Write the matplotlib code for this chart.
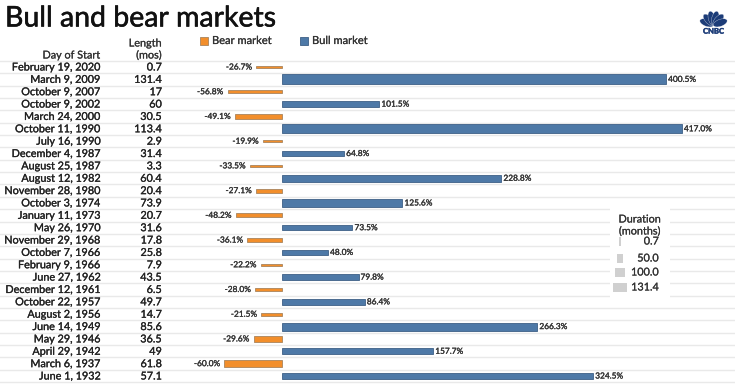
import numpy as np
import matplotlib
matplotlib.use("Agg")
import matplotlib.pyplot as plt
import matplotlib.patheffects as pe
from matplotlib.patches import Rectangle, Ellipse
from matplotlib.transforms import blended_transform_factory

plt.rcParams["font.family"] = ["Lato", "DejaVu Sans"]

# Data
start_dates = [
    "February 19, 2020", "March 9, 2009", "October 9, 2007", "October 9, 2002",
    "March 24, 2000", "October 11, 1990", "July 16, 1990", "December 4, 1987",
    "August 25, 1987", "August 12, 1982", "November 28, 1980", "October 3, 1974",
    "January 11, 1973", "May 26, 1970", "November 29, 1968", "October 7, 1966",
    "February 9, 1966", "June 27, 1962", "December 12, 1961", "October 22, 1957",
    "August 2, 1956", "June 14, 1949", "May 29, 1946", "April 29, 1942",
    "March 6, 1937", "June 1, 1932",
]
length_mos = [
    0.7, 131.4, 17, 60, 30.5, 113.4, 2.9, 31.4, 3.3, 60.4, 20.4, 73.9, 20.7,
    31.6, 17.8, 25.8, 7.9, 43.5, 6.5, 49.7, 14.7, 85.6, 36.5, 49, 61.8, 57.1,
]
pct_change = [
    -26.7, 400.5, -56.8, 101.5, -49.1, 417.0, -19.9, 64.8, -33.5, 228.8, -27.1,
    125.6, -48.2, 73.5, -36.1, 48.0, -22.2, 79.8, -28.0, 86.4, -21.5, 266.3,
    -29.6, 157.7, -60.0, 324.5,
]
legend_durations = [0.7, 50.0, 100.0, 131.4]

# Colours
BEAR = "#f28e2b"
BEAR_EDGE = "#a8845c"
BULL = "#4e79a7"
BULL_EDGE = "#3d5f86"
GRID = "#e9e9e9"
TXT = "#222222"
LOGO = "#1c3c78"


def heavy(w, c):
    return [pe.withStroke(linewidth=w, foreground=c)]


# Layout (pixels)
W, H = 735, 384
X0 = 282.0          # pixel position of 0%
PX_PER_PCT = 0.959
ROW0 = 67.0         # centre of first row
ROW_H = 12.36

fig = plt.figure(figsize=(W / 100, H / 100), dpi=100)
ax = fig.add_axes([0, 0, 1, 1])
ax.set_xlim(-X0 / PX_PER_PCT, (W - X0) / PX_PER_PCT)
ax.set_ylim((H - ROW0) / ROW_H, -ROW0 / ROW_H)
ax.axis("off")

n = len(start_dates)
rows = np.arange(n)
vals = np.array(pct_change)
durs = np.array(length_mos)

# horizontal separators
for b in np.arange(n + 1) - 0.5:
    ax.axhline(b, color=GRID, lw=1.0, zorder=0)

# bar thickness encodes duration
thick = 0.8 * np.sqrt(durs / durs.max())
thick = np.maximum(thick, 0.09)
colors = [BEAR if v < 0 else BULL for v in vals]
edges = [BEAR_EDGE if v < 0 else BULL_EDGE for v in vals]
ax.barh(rows, vals, height=thick, color=colors, edgecolor=edges,
        linewidth=0.6, zorder=2)

pad = 2.0 / PX_PER_PCT
for i, v in enumerate(vals):
    if v < 0:
        ax.text(v - 2 * pad, i, "{:.1f}%".format(v), ha="right", va="center",
                fontsize=6, color="#333333",
                path_effects=heavy(0.2, "#333333"))
    else:
        ax.text(v + pad, i, "{:.1f}%".format(v), ha="left", va="center",
                fontsize=6, color="#333333",
                path_effects=heavy(0.2, "#333333"))

# table columns
tr = blended_transform_factory(fig.transFigure, ax.transData)
for i in range(n):
    ax.text(101 / W, i, start_dates[i], transform=tr, ha="right",
            va="center", fontsize=7.8, color=TXT,
            path_effects=heavy(0.2, TXT))
    ax.text(162 / W, i, "{:g}".format(length_mos[i]), transform=tr,
            ha="right", va="center", fontsize=7.8, color=TXT,
            path_effects=heavy(0.2, TXT))

for x, y, s in [(101, 55, "Day of Start"), (162, 43, "Length"),
                (162, 55, "(mos)")]:
    fig.text(x / W, 1 - y / H, s, ha="right", va="center", fontsize=7.8,
             color="#333333", path_effects=heavy(0.15, "#333333"))

# title
fig.text(5 / W, 1 - 18.5 / H, "Bull and bear markets", ha="left",
         va="center", fontsize=20.5, color="#111111",
         path_effects=heavy(0.4, "#111111"))

# top legend
for x, c, ec, lab in [(200, BEAR, BEAR_EDGE, "Bear market"),
                      (300, BULL, BULL_EDGE, "Bull market")]:
    fig.patches.append(Rectangle((x / W, 1 - 44.5 / H), 7.5 / W, 7.5 / H,
                                 transform=fig.transFigure, facecolor=c,
                                 edgecolor=ec, lw=0.6))
    fig.text((x + 12) / W, 1 - 40.5 / H, lab, ha="left", va="center",
             fontsize=8, color="#333333", path_effects=heavy(0.15, "#333333"))

# size legend
lax = fig.add_axes([610 / W, (H - 300) / H, 60 / W, 92 / H], zorder=3)
lax.set_xlim(0, 60)
lax.set_ylim(92, 0)
lax.set_facecolor("white")
for s in lax.spines.values():
    s.set_visible(False)
lax.set_xticks([])
lax.set_yticks([])
lax.text(30, 11, "Duration", ha="center", va="center", fontsize=7.8,
         color="#333333", path_effects=heavy(0.15, "#333333"))
lax.text(30, 23, "(months)", ha="center", va="center", fontsize=7.8,
         color="#333333", path_effects=heavy(0.15, "#333333"))
leg_y = [33, 50, 64, 79]
leg_w = [max(14 * d / 131.4, 1.2) for d in legend_durations]
lax.bar([10] * 4, [9] * 4, width=leg_w, bottom=[y - 4.5 for y in leg_y],
        color="#d0d0d0")
for y, d in zip(leg_y, legend_durations):
    lax.text(49, y, "{:.1f}".format(d), ha="right", va="center",
             fontsize=7.8, color="#333333", path_effects=heavy(0.15, "#333333"))

# CNBC logo
gax = fig.add_axes([699 / W, 1 - 34 / H, 29 / W, 29 / H], zorder=3)
gax.set_xlim(-1.25, 1.25)
gax.set_ylim(-0.75, 1.75)
gax.axis("off")
for ang in np.linspace(160, 20, 6):
    a = np.deg2rad(ang)
    gax.add_patch(Ellipse((0.62 * np.cos(a), 0.62 * np.sin(a)), 1.25, 0.6,
                          angle=ang, facecolor=LOGO, edgecolor="white",
                          lw=0.2))
gax.text(0, -0.5, "CNBC", ha="center", va="center", fontsize=5.5,
         fontweight="bold", color=LOGO, path_effects=heavy(0.3, LOGO))

fig.savefig("out.png", dpi=100)
